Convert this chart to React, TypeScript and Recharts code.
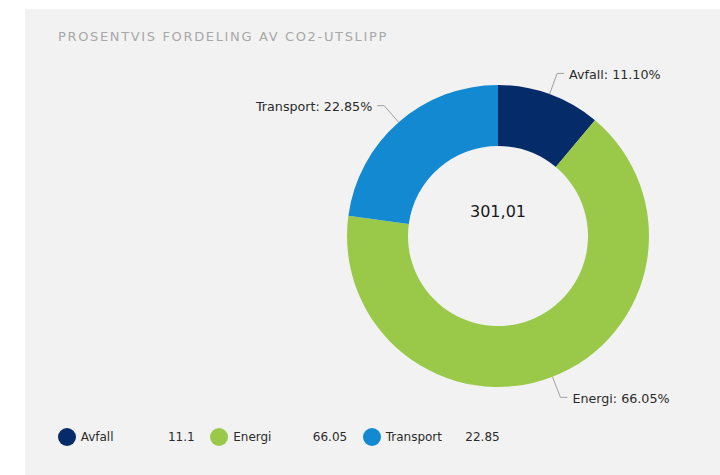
import React from 'react';
import { PieChart, Pie, Cell, Label, Legend } from 'recharts';

const names = ['Avfall', 'Energi', 'Transport'];
const values = [11.1, 66.05, 22.85];
const colors = ['#062b69', '#9ac94a', '#1289d0'];
const totalLabel = '301,01';
const title = 'PROSENTVIS FORDELING AV CO2-UTSLIPP';

const data = names.map((name, i) => ({ name, value: values[i] }));

const FONT = '"DejaVu Sans", Verdana, sans-serif';
const CX = 498;
const CY = 236;

const renderLabel = (props: any) => {
    const { cx, cy, midAngle, outerRadius, percent, name } = props;
    const rad = Math.PI / 180;
    const cos = Math.cos(-midAngle * rad);
    const sin = Math.sin(-midAngle * rad);
    const sx = cx + outerRadius * cos;
    const sy = cy + outerRadius * sin;
    const mx = cx + (outerRadius + 22) * cos;
    const my = cy + (outerRadius + 22) * sin;
    const right = cos >= 0;
    const ex = mx + (right ? 7 : -7);
    return (
        <g>
            <path d={`M${sx},${sy}L${mx},${my}L${ex},${my}`} stroke="#a0a0a0" strokeWidth={1} fill="none" />
            <text
                x={ex + (right ? 5 : -5)}
                y={my + 1}
                textAnchor={right ? 'start' : 'end'}
                dominantBaseline="central"
                fontFamily={FONT}
                fontSize={12.7}
                fill="#2b2b2b"
            >
                {`${name}: ${((percent || 0) * 100).toFixed(2)}%`}
            </text>
        </g>
    );
};

const LegendContent = () => (
    <div style={{ display: 'flex', fontFamily: FONT, fontSize: 12, color: '#2b2b2b' }}>
        {data.map((d, i) => (
            <div key={d.name} style={{ width: 137, marginRight: 15.5, display: 'flex', alignItems: 'center', height: 20 }}>
                <span style={{ width: 18, height: 18, borderRadius: 9, background: colors[i], marginRight: 5, flex: 'none' }} />
                <span style={{ flex: 1 }}>{d.name}</span>
                <span>{d.value}</span>
            </div>
        ))}
    </div>
);

export default function App() {
    return (
        <div style={{ position: 'absolute', left: 0, top: 0, width: 720, height: 475, background: '#fff', overflow: 'hidden' }}>
            <div style={{ position: 'absolute', left: 25, top: 9, width: 695, height: 466, background: '#f2f2f2' }} />
            <div
                style={{
                    position: 'absolute',
                    left: 58,
                    top: 30,
                    fontFamily: FONT,
                    fontSize: 13,
                    lineHeight: '13px',
                    letterSpacing: 1.65,
                    color: '#a8a8a8',
                    whiteSpace: 'nowrap',
                }}
            >
                {title}
            </div>
            <div style={{ position: 'absolute', left: 0, top: 0 }}>
                <PieChart width={720} height={475} margin={{ top: 0, right: 0, bottom: 0, left: 0 }}>
                    <Pie
                        data={data}
                        dataKey="value"
                        nameKey="name"
                        cx={CX}
                        cy={CY}
                        innerRadius={90}
                        outerRadius={151}
                        startAngle={90}
                        endAngle={-270}
                        stroke="none"
                        label={renderLabel}
                        labelLine={false}
                        isAnimationActive={false}
                    >
                        {data.map((d, i) => (
                            <Cell key={`cell-${d.name}`} fill={colors[i]} />
                        ))}
                        <Label
                            position="center"
                            content={() => (
                                <text
                                    x={CX}
                                    y={CY - 25}
                                    textAnchor="middle"
                                    dominantBaseline="central"
                                    fontFamily={FONT}
                                    fontSize={16}
                                    fill="#1a1a1a"
                                >
                                    {totalLabel}
                                </text>
                            )}
                        />
                    </Pie>
                    <Legend
                        content={LegendContent}
                        wrapperStyle={{ position: 'absolute', left: 57.7, top: 427, width: 500, bottom: 'auto' }}
                    />
                </PieChart>
            </div>
        </div>
    );
}
